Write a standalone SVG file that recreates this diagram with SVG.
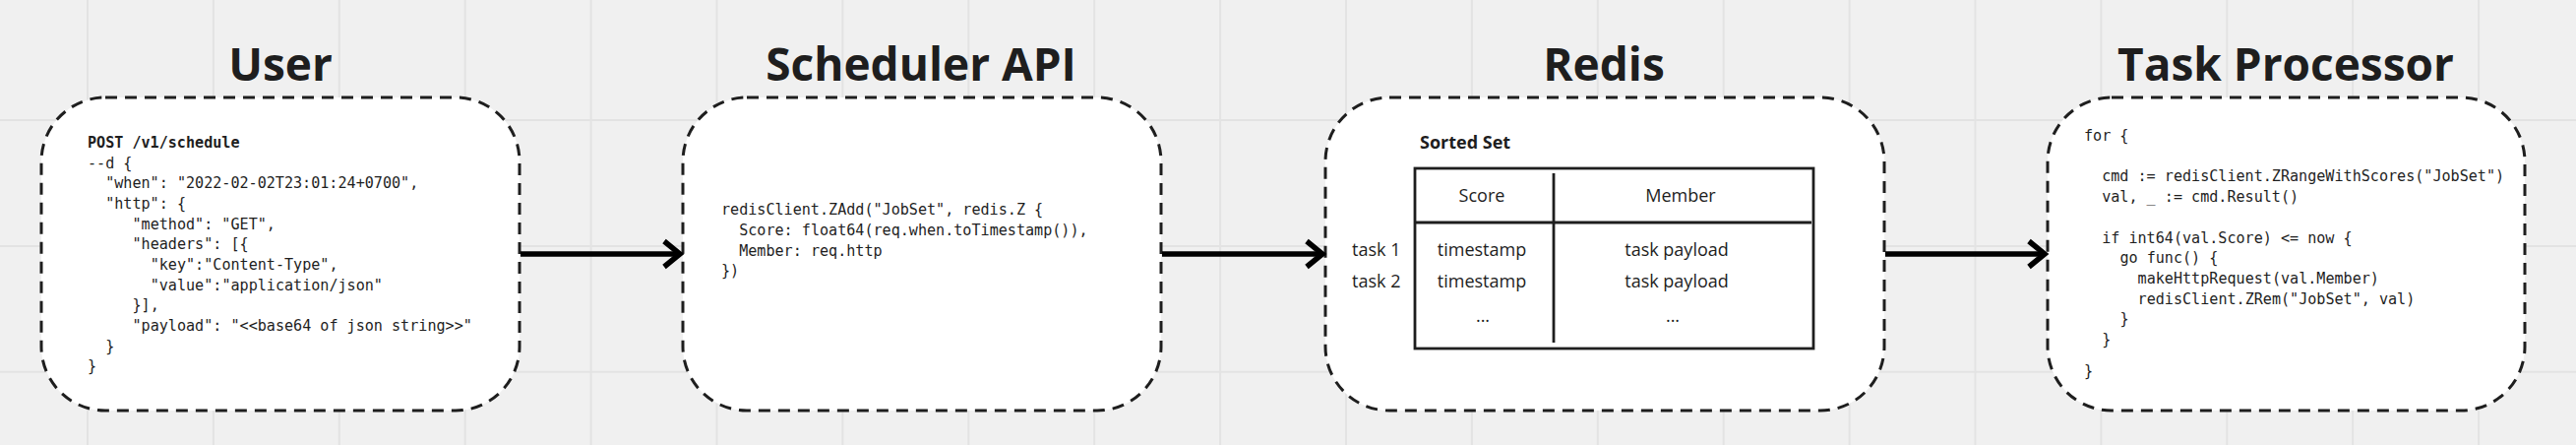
<svg xmlns="http://www.w3.org/2000/svg" width="2618" height="452" viewBox="0 0 2618 452">
<style>
.title{font-family:"Open Sans","Noto Sans",sans-serif;font-weight:700;font-size:46px;fill:#1e1e1e;text-anchor:middle}
.box{fill:#ffffff;stroke:#1e1e1e;stroke-width:3;stroke-dasharray:12 8}
.code{font-family:"DejaVu Sans Mono","Liberation Mono",monospace;font-size:15.1px;fill:#1e1e1e}
.b{font-weight:700}
.sans{font-family:"Open Sans","Noto Sans",sans-serif;font-size:18px;fill:#1e1e1e}
.mid{text-anchor:middle}
.conn{stroke:#000;stroke-width:5.5;fill:none}
.tbl{stroke:#1e1e1e;stroke-width:2.8;fill:none}
</style>
<defs>
<marker id="chev" markerUnits="userSpaceOnUse" viewBox="-20 -16 24 32" refX="0" refY="0" markerWidth="24" markerHeight="32" orient="auto" overflow="visible">
<path d="M-16,-13 L0,0 L-16,13" fill="none" stroke="#000" stroke-width="5.5" stroke-linejoin="miter"/>
</marker>
</defs>
<rect x="0" y="0" width="2618" height="452" fill="#f0f0f0"/>
<g id="grid" stroke="#e3e3e3" stroke-width="2">
<path d="M89,0V452M216.9,0V452M344.8,0V452M472.7,0V452M600.6,0V452M728.5,0V452M856.4,0V452M984.3,0V452M1112.2,0V452M1240.1,0V452M1368,0V452M1495.9,0V452M1623.8,0V452M1751.7,0V452M1879.6,0V452M2007.5,0V452M2135.4,0V452M2263.3,0V452M2391.2,0V452M2519.1,0V452M0,122H2618M0,249.9H2618M0,377.8H2618"/>
</g>
<g id="user">
<text class="title" x="285" y="82">User</text>
<rect class="box" x="42" y="99" width="486" height="318" rx="65" ry="65"/>
<text class="code b" x="89" y="150">POST /v1/schedule</text>
<text class="code" x="89" y="170.6">--d {</text>
<text class="code" x="107.2" y="191.3">"when": "2022-02-02T23:01:24+0700",</text>
<text class="code" x="107.2" y="211.9">"http": {</text>
<text class="code" x="134.5" y="232.6">"method": "GET",</text>
<text class="code" x="134.5" y="253.2">"headers": [{</text>
<text class="code" x="152.7" y="273.9">"key":"Content-Type",</text>
<text class="code" x="152.7" y="294.5">"value":"application/json"</text>
<text class="code" x="134.5" y="315.2">}],</text>
<text class="code" x="134.5" y="335.8">"payload": "&lt;&lt;base64 of json string&gt;&gt;"</text>
<text class="code" x="107.2" y="356.5">}</text>
<text class="code" x="89" y="377.1">}</text>
</g>
<g id="scheduler-api">
<text class="title" x="936" y="82">Scheduler API</text>
<rect class="box" x="694" y="99" width="486" height="318" rx="65" ry="65"/>
<text class="code" x="733" y="218">redisClient.ZAdd("JobSet", redis.Z {</text>
<text class="code" x="751.2" y="238.8">Score: float64(req.when.toTimestamp()),</text>
<text class="code" x="751.2" y="259.6">Member: req.http</text>
<text class="code" x="733" y="280.4">})</text>
</g>
<g id="redis">
<text class="title" x="1630" y="82">Redis</text>
<rect class="box" x="1347" y="99" width="568" height="318" rx="65" ry="65"/>
<text class="sans b" x="1443" y="151">Sorted Set</text>
<rect class="tbl" x="1438" y="171" width="405" height="183"/>
<line class="tbl" x1="1439" y1="226" x2="1841" y2="226"/>
<line class="tbl" x1="1579" y1="176" x2="1579" y2="348"/>
<text class="sans mid" x="1506" y="205">Score</text>
<text class="sans mid" x="1708" y="205">Member</text>
<text class="sans" x="1374" y="260">task 1</text>
<text class="sans" x="1374" y="292">task 2</text>
<text class="sans mid" x="1506" y="260">timestamp</text>
<text class="sans mid" x="1506" y="292">timestamp</text>
<text class="sans mid" x="1704" y="260">task payload</text>
<text class="sans mid" x="1704" y="292">task payload</text>
<text class="sans mid" x="1507" y="327">...</text>
<text class="sans mid" x="1700" y="327">...</text>
</g>
<g id="task-processor">
<text class="title" x="2323" y="82">Task Processor</text>
<rect class="box" x="2081" y="99" width="485" height="318" rx="65" ry="65"/>
<text class="code" x="2118" y="143">for {</text>
<text class="code" x="2136.2" y="184.4">cmd := redisClient.ZRangeWithScores("JobSet")</text>
<text class="code" x="2136.2" y="205.1">val, _ := cmd.Result()</text>
<text class="code" x="2136.2" y="246.5">if int64(val.Score) &lt;= now {</text>
<text class="code" x="2154.4" y="267.2">go func() {</text>
<text class="code" x="2172.6" y="287.9">makeHttpRequest(val.Member)</text>
<text class="code" x="2172.6" y="308.6">redisClient.ZRem("JobSet", val)</text>
<text class="code" x="2154.4" y="329.3">}</text>
<text class="code" x="2136.2" y="350">}</text>
<text class="code" x="2118" y="381.5">}</text>
</g>
<g id="connectors">
<line class="conn" x1="529" y1="258" x2="691" y2="258" marker-end="url(#chev)"/>
<line class="conn" x1="1181" y1="258" x2="1344" y2="258" marker-end="url(#chev)"/>
<line class="conn" x1="1916" y1="258" x2="2078" y2="258" marker-end="url(#chev)"/>
</g>
</svg>
